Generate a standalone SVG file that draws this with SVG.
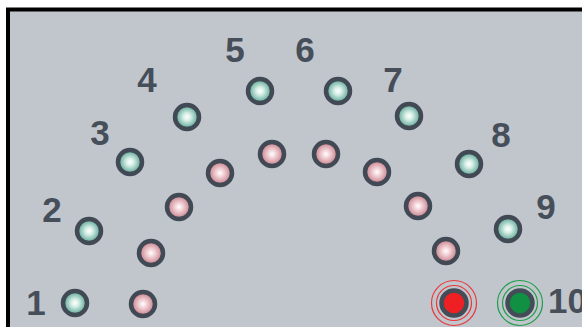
<svg xmlns="http://www.w3.org/2000/svg" width="582" height="327" viewBox="0 0 582 327">
<defs>
<radialGradient id="gTeal" cx="0.5" cy="0.5" r="0.5">
<stop offset="0" stop-color="#ffffff"/>
<stop offset="0.3" stop-color="#d8efe7"/>
<stop offset="1" stop-color="#4f9f8d"/>
</radialGradient>
<radialGradient id="gPink" cx="0.5" cy="0.5" r="0.5">
<stop offset="0" stop-color="#ffffff"/>
<stop offset="0.3" stop-color="#f3d6da"/>
<stop offset="1" stop-color="#c47884"/>
</radialGradient>
<style>
.lbl{font-family:"Liberation Sans",Arial,sans-serif;font-size:35px;font-weight:bold;fill:#464e59;text-anchor:middle}
.t{fill:url(#gTeal);stroke:#414954;stroke-width:4.5}
.p{fill:url(#gPink);stroke:#414954;stroke-width:4.5}
</style>
</defs>
<rect x="0" y="0" width="582" height="327" fill="#ffffff"/>
<rect x="8" y="9.5" width="580" height="322" fill="#c0c6cc" stroke="#000000" stroke-width="4"/>
<g id="labels">
<text class="lbl" x="36" y="315">1</text>
<text class="lbl" x="52" y="222">2</text>
<text class="lbl" x="100" y="145">3</text>
<text class="lbl" x="147" y="92">4</text>
<text class="lbl" x="235" y="62">5</text>
<text class="lbl" x="305" y="62">6</text>
<text class="lbl" x="393" y="92">7</text>
<text class="lbl" x="501" y="147">8</text>
<text class="lbl" x="546" y="219">9</text>
<text class="lbl" x="548" y="313" style="text-anchor:start">10</text>
</g>
<g id="teal">
<circle class="t" cx="75" cy="303" r="12"/>
<circle class="t" cx="89" cy="231" r="12"/>
<circle class="t" cx="130" cy="162" r="12"/>
<circle class="t" cx="187" cy="117" r="12"/>
<circle class="t" cx="260" cy="91" r="12"/>
<circle class="t" cx="338" cy="91" r="12"/>
<circle class="t" cx="409" cy="116" r="12"/>
<circle class="t" cx="469" cy="164" r="12"/>
<circle class="t" cx="508" cy="229" r="12"/>
</g>
<g id="pink">
<circle class="p" cx="143" cy="304" r="12"/>
<circle class="p" cx="151" cy="253" r="12"/>
<circle class="p" cx="179" cy="207" r="12"/>
<circle class="p" cx="220" cy="173" r="12"/>
<circle class="p" cx="272" cy="154" r="12"/>
<circle class="p" cx="326" cy="154" r="12"/>
<circle class="p" cx="377" cy="172" r="12"/>
<circle class="p" cx="418" cy="206" r="12"/>
<circle class="p" cx="446" cy="251" r="12"/>
</g>
<g id="red">
<circle cx="454" cy="303" r="22.5" fill="none" stroke="#e8383d" stroke-width="1.2"/>
<circle cx="454" cy="303" r="17.5" fill="none" stroke="#e8383d" stroke-width="1.2"/>
<circle cx="454" cy="303" r="12.5" fill="#ee2024" stroke="#444c57" stroke-width="4.5"/>
</g>
<g id="green">
<circle cx="520" cy="303" r="22.5" fill="none" stroke="#1f9e4a" stroke-width="1.2"/>
<circle cx="520" cy="303" r="17.5" fill="none" stroke="#1f9e4a" stroke-width="1.2"/>
<circle cx="520" cy="303" r="12.5" fill="#118f42" stroke="#444c57" stroke-width="4.5"/>
</g>
</svg>
